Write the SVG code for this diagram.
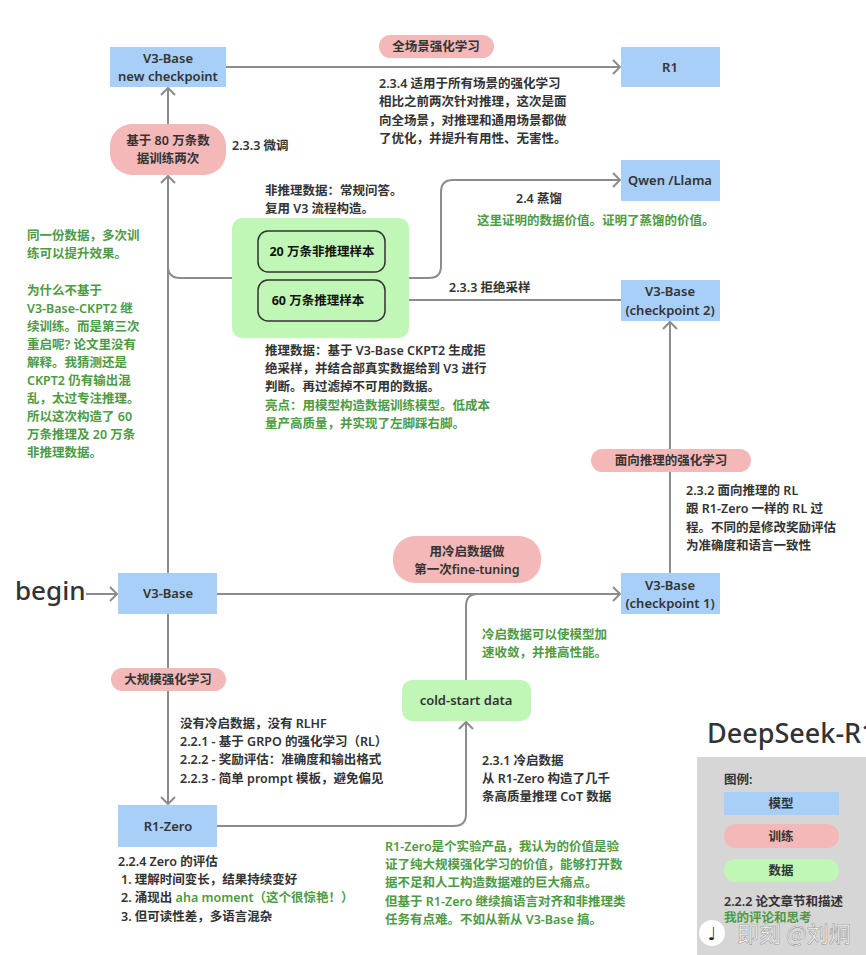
<svg xmlns="http://www.w3.org/2000/svg" width="866" height="955" viewBox="0 0 866 955">
<style>
.t{font-family:"Noto Sans","Noto Sans CJK SC",sans-serif;font-size:12.5px;fill:#333;font-weight:600}
.g{fill:#4e9a44}
.c{text-anchor:middle}
.n{font-family:"Noto Sans","Noto Sans CJK SC",sans-serif;font-size:13px;fill:#333;font-weight:600;text-anchor:middle}
.b{font-weight:700;fill:#111}
.model{fill:#a8cff8}
.train{fill:#f4b8b8}
.data{fill:#c0f7b6}
.ln{fill:none;stroke:#8c8c8c;stroke-width:2}
</style>
<defs>
<marker id="ah" markerUnits="userSpaceOnUse" viewBox="-10 -10 12 20" refX="0" refY="0" markerWidth="12" markerHeight="20" orient="auto">
<path d="M-7,-7 L0,0 L-7,7" fill="none" stroke="#8c8c8c" stroke-width="2"/>
</marker>
</defs>
<rect width="866" height="955" fill="#fff"/>

<g id="connectors">
<path class="ln" d="M86,594 H117" marker-end="url(#ah)"/>
<path class="ln" d="M217,594 H620" marker-end="url(#ah)"/>
<path class="ln" d="M168,573 V176" marker-end="url(#ah)"/>
<path class="ln" d="M168,124 V88" marker-end="url(#ah)"/>
<path class="ln" d="M226,67 H620" marker-end="url(#ah)"/>
<path class="ln" d="M232,278 H180 Q168,278 168,266"/>
<path class="ln" d="M409,278 H429 Q441,278 441,266 V192 Q441,180 453,180 H620" marker-end="url(#ah)"/>
<path class="ln" d="M621,300 H386" marker-end="url(#ah)"/>
<path class="ln" d="M670,449 V322" marker-end="url(#ah)"/>
<path class="ln" d="M670,573 V472"/>
<path class="ln" d="M168,614 V804" marker-end="url(#ah)"/>
<path class="ln" d="M217,826 H454 Q466,826 466,814 V722" marker-end="url(#ah)"/>
<path class="ln" d="M466,680 V606 Q466,594 478,594"/>
</g>

<g id="begin"><text x="15" y="600" font-family="Noto Sans,sans-serif" font-size="26" font-weight="500" fill="#333">begin</text></g>

<g id="v3base">
<rect class="model" x="118" y="573" width="99" height="41"/>
<text class="n" x="168" y="598">V3-Base</text>
</g>

<g id="v3new">
<rect class="model" x="110" y="47" width="116" height="40"/>
<text class="n" x="168" y="63">V3-Base</text>
<text class="n" x="168" y="81">new checkpoint</text>
</g>

<g id="r1">
<rect class="model" x="621" y="47" width="99" height="40"/>
<text class="n" x="670" y="72">R1</text>
</g>

<g id="qwen">
<rect class="model" x="621" y="160" width="99" height="41"/>
<text class="n" x="670" y="185">Qwen /Llama</text>
</g>

<g id="ckpt2">
<rect class="model" x="621" y="280" width="99" height="41"/>
<text class="n" x="670" y="296">V3-Base</text>
<text class="n" x="670" y="315">(checkpoint 2)</text>
</g>

<g id="ckpt1">
<rect class="model" x="621" y="573" width="99" height="41"/>
<text class="n" x="670" y="590">V3-Base</text>
<text class="n" x="670" y="608">(checkpoint 1)</text>
</g>

<g id="r1zero">
<rect class="model" x="118" y="805" width="99" height="42"/>
<text class="n" x="168" y="831">R1-Zero</text>
</g>

<g id="pill-all">
<rect class="train" x="379" y="35" width="115" height="23" rx="11.5"/>
<text class="t c" x="436" y="51">全场景强化学习</text>
</g>

<g id="pill-80w">
<rect class="train" x="110" y="124" width="116" height="51" rx="22"/>
<text class="t c" x="168" y="145">基于 80 万条数</text>
<text class="t c" x="168" y="163">据训练两次</text>
</g>

<g id="pill-reason">
<rect class="train" x="591" y="449" width="160" height="23" rx="11.5"/>
<text class="t c" x="671" y="465">面向推理的强化学习</text>
</g>

<g id="pill-ft">
<rect class="train" x="393" y="536" width="148" height="47" rx="22"/>
<text class="t c" x="467" y="556">用冷启数据做</text>
<text class="t c" x="467" y="574">第一次fine-tuning</text>
</g>

<g id="pill-rl">
<rect class="train" x="111" y="668" width="115" height="23" rx="11.5"/>
<text class="t c" x="168" y="684">大规模强化学习</text>
</g>

<g id="databox">
<rect class="data" x="232" y="218" width="177" height="120" rx="10"/>
<rect x="258" y="231" width="127" height="41" rx="10" fill="none" stroke="#333" stroke-width="1.5"/>
<text class="t c b" x="322" y="256">20 万条非推理样本</text>
<rect x="258" y="280" width="127" height="41" rx="10" fill="none" stroke="#333" stroke-width="1.5"/>
<text class="t c b" x="318" y="305">60 万条推理样本</text>
</g>

<g id="coldstart">
<rect class="data" x="402" y="680" width="129" height="41" rx="10"/>
<text class="n" x="466" y="705">cold-start data</text>
</g>

<g id="notes">
<text class="t" x="232" y="150">2.3.3 微调</text>
<text class="t" x="379" y="88">2.3.4 适用于所有场景的强化学习</text>
<text class="t" x="379" y="106">相比之前两次针对推理，这次是面</text>
<text class="t" x="379" y="125">向全场景，对推理和通用场景都做</text>
<text class="t" x="379" y="143">了优化，并提升有用性、无害性。</text>

<text class="t" x="516" y="203">2.4 蒸馏</text>
<text class="t g" x="477" y="225">这里证明的数据价值。证明了蒸馏的价值。</text>

<text class="t" x="265" y="195">非推理数据：常规问答。</text>
<text class="t" x="265" y="213">复用 V3 流程构造。</text>

<text class="t" x="449" y="292">2.3.3 拒绝采样</text>

<text class="t" x="265" y="355">推理数据：基于 V3-Base CKPT2 生成拒</text>
<text class="t" x="265" y="373">绝采样，并结合部真实数据给到 V3 进行</text>
<text class="t" x="265" y="391">判断。再过滤掉不可用的数据。</text>
<text class="t g" x="265" y="410">亮点：用模型构造数据训练模型。低成本</text>
<text class="t g" x="265" y="428">量产高质量，并实现了左脚踩右脚。</text>

<text class="t g" x="27" y="240">同一份数据，多次训</text>
<text class="t g" x="27" y="258">练可以提升效果。</text>
<text class="t g" x="27" y="295">为什么不基于</text>
<text class="t g" x="27" y="313">V3-Base-CKPT2 继</text>
<text class="t g" x="27" y="331">续训练。而是第三次</text>
<text class="t g" x="27" y="349">重启呢? 论文里没有</text>
<text class="t g" x="27" y="367">解释。我猜测还是</text>
<text class="t g" x="27" y="385">CKPT2 仍有输出混</text>
<text class="t g" x="27" y="403">乱，太过专注推理。</text>
<text class="t g" x="27" y="421">所以这次构造了 60</text>
<text class="t g" x="27" y="439">万条推理及 20 万条</text>
<text class="t g" x="27" y="457">非推理数据。</text>

<text class="t" x="686" y="495">2.3.2 面向推理的 RL</text>
<text class="t" x="686" y="513">跟 R1-Zero 一样的 RL 过</text>
<text class="t" x="686" y="532">程。不同的是修改奖励评估</text>
<text class="t" x="686" y="550">为准确度和语言一致性</text>

<text class="t g" x="482" y="639">冷启数据可以使模型加</text>
<text class="t g" x="482" y="657">速收敛，并推高性能。</text>

<text class="t" x="180" y="728">没有冷启数据，没有 RLHF</text>
<text class="t" x="180" y="746">2.2.1 - 基于 GRPO 的强化学习（RL）</text>
<text class="t" x="180" y="764">2.2.2 - 奖励评估：准确度和输出格式</text>
<text class="t" x="180" y="783">2.2.3 - 简单 prompt 模板，避免偏见</text>

<text class="t" x="482" y="765">2.3.1 冷启数据</text>
<text class="t" x="482" y="783">从 R1-Zero 构造了几千</text>
<text class="t" x="482" y="801">条高质量推理 CoT 数据</text>

<text class="t" x="118" y="866">2.2.4 Zero 的评估</text>
<text class="t" x="121" y="884">1. 理解时间变长，结果持续变好</text>
<text class="t" x="121" y="902">2. 涌现出 <tspan class="g">aha moment（这个很惊艳！）</tspan></text>
<text class="t" x="121" y="921">3. 但可读性差，多语言混杂</text>

<text class="t g" x="385" y="851">R1-Zero是个实验产品，我认为的价值是验</text>
<text class="t g" x="385" y="869">证了纯大规模强化学习的价值，能够打开数</text>
<text class="t g" x="385" y="887">据不足和人工构造数据难的巨大痛点。</text>
<text class="t g" x="385" y="906">但基于 R1-Zero 继续搞语言对齐和非推理类</text>
<text class="t g" x="385" y="924">任务有点难。不如从新从 V3-Base 搞。</text>
</g>

<g id="title"><text x="707" y="743" font-family="Noto Sans,sans-serif" font-size="27" font-weight="500" fill="#333">DeepSeek-R1</text></g>

<g id="legend">
<rect x="697" y="757" width="169" height="198" fill="#d6d6d6"/>
<text class="t" x="724" y="784">图例:</text>
<rect class="model" x="724" y="792" width="115" height="23"/>
<text class="t c" x="781" y="808">模型</text>
<rect class="train" x="724" y="824" width="115" height="24" rx="12"/>
<text class="t c" x="781" y="841">训练</text>
<rect class="data" x="724" y="859" width="115" height="23" rx="11.5"/>
<text class="t c" x="781" y="875">数据</text>
<text class="t" x="724" y="906">2.2.2 论文章节和描述</text>
<text class="t g" x="724" y="922">我的评论和思考</text>
</g>

<g id="watermark">
<circle cx="712" cy="933" r="13" fill="#fff"/>
<text x="712" y="940" font-family="DejaVu Sans,sans-serif" font-size="18" fill="#222" text-anchor="middle">♩</text>
<text x="737" y="942" font-family="Noto Sans CJK SC,sans-serif" font-size="22" fill="#fff" stroke="#999" stroke-width="0.6">即刻 @刘炯</text>
</g>
</svg>
